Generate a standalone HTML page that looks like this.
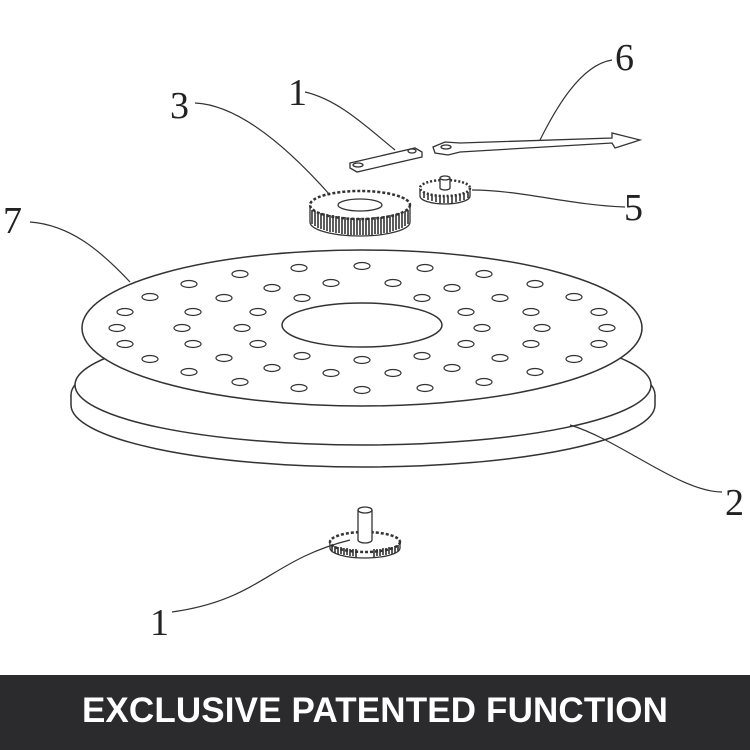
<!DOCTYPE html>
<html><head><meta charset="utf-8"><style>
html,body{margin:0;padding:0;background:#fff;}
.wrap{position:relative;width:750px;height:750px;overflow:hidden;background:#fff;}
.bar{position:absolute;left:0;top:675px;width:750px;height:75px;background:#2b2a2d;color:#fff;font-family:"Liberation Sans",sans-serif;font-weight:bold;font-size:35px;text-align:center;line-height:72px;letter-spacing:0.15px;}
svg text{font-family:"Liberation Serif",serif;font-size:38px;fill:#222;}
</style></head><body><div class="wrap">
<svg width="750" height="675" viewBox="0 0 750 675" xmlns="http://www.w3.org/2000/svg">
<defs><ellipse id="h" cx="0" cy="0" rx="8" ry="3.5" fill="#fff" stroke="#333" stroke-width="1.2"/></defs>
<g fill="none" stroke="#333" stroke-width="1.5">
<ellipse cx="363" cy="395" rx="292" ry="62" fill="#fff"/>
<path d="M71 395 L71 405 A292 62 0 0 0 655 405 L655 395" fill="#fff"/>
<ellipse cx="363" cy="385" rx="288" ry="60" fill="#fff"/>
<ellipse cx="362" cy="328" rx="280" ry="78" fill="#fff"/>
<ellipse cx="362" cy="325" rx="80" ry="22" fill="#fff"/>
</g>
<g>
<use href="#h" x="607" y="328"/><use href="#h" x="599" y="344"/><use href="#h" x="574" y="359"/><use href="#h" x="535" y="372"/><use href="#h" x="484" y="382"/><use href="#h" x="425" y="388"/><use href="#h" x="362" y="390"/><use href="#h" x="299" y="388"/><use href="#h" x="240" y="382"/><use href="#h" x="189" y="372"/><use href="#h" x="150" y="359"/><use href="#h" x="125" y="344"/><use href="#h" x="117" y="328"/><use href="#h" x="125" y="312"/><use href="#h" x="150" y="297"/><use href="#h" x="189" y="284"/><use href="#h" x="240" y="274"/><use href="#h" x="299" y="268"/><use href="#h" x="362" y="266"/><use href="#h" x="425" y="268"/><use href="#h" x="484" y="274"/><use href="#h" x="535" y="284"/><use href="#h" x="574" y="297"/><use href="#h" x="599" y="312"/>
<use href="#h" x="542" y="328"/><use href="#h" x="531" y="344"/><use href="#h" x="500" y="358"/><use href="#h" x="452" y="368"/><use href="#h" x="393" y="373"/><use href="#h" x="331" y="373"/><use href="#h" x="272" y="368"/><use href="#h" x="224" y="358"/><use href="#h" x="193" y="344"/><use href="#h" x="182" y="328"/><use href="#h" x="193" y="312"/><use href="#h" x="224" y="298"/><use href="#h" x="272" y="288"/><use href="#h" x="331" y="283"/><use href="#h" x="393" y="283"/><use href="#h" x="452" y="288"/><use href="#h" x="500" y="298"/><use href="#h" x="531" y="312"/>
<use href="#h" x="482" y="328"/><use href="#h" x="466" y="344"/><use href="#h" x="422" y="356"/><use href="#h" x="362" y="360"/><use href="#h" x="302" y="356"/><use href="#h" x="258" y="344"/><use href="#h" x="242" y="328"/><use href="#h" x="258" y="312"/><use href="#h" x="302" y="298"/><use href="#h" x="422" y="298"/><use href="#h" x="466" y="312"/>
</g>
<g fill="#fff" stroke="#333" stroke-width="1.3">
<path d="M310 205 L310 222 A50 14 0 0 0 410 222 L410 205"/>
<ellipse cx="360" cy="205" rx="50" ry="14" stroke-width="2.5" stroke-dasharray="3 2"/>
<ellipse cx="360" cy="205" rx="22" ry="6"/>
<path d="M312 210 V224 M315 211 V226 M318 212 V228 M321 213 V229 M324 214 V230 M327 214 V231 M330 215 V232 M333 215 V232 M336 216 V233 M339 216 V233 M342 217 V234 M345 217 V234 M348 218 V235 M351 218 V235 M354 218 V235 M357 218 V235 M360 218 V235 M363 218 V235 M366 218 V235 M369 218 V235 M372 218 V235 M375 217 V234 M378 217 V234 M381 217 V234 M384 216 V233 M387 216 V233 M390 215 V232 M393 215 V231 M396 214 V230 M399 213 V229 M402 212 V228 M405 211 V226 M408 210 V224" fill="none" stroke-width="1.6"/>
<path d="M420 188 L420 196 A25 8 0 0 0 470 196 L470 188"/>
<ellipse cx="445" cy="188" rx="25" ry="8" stroke-width="2.5" stroke-dasharray="2 2"/>
<path d="M424 192 V198 M428 193 V200 M432 194 V201 M436 195 V202 M440 195 V203 M444 196 V203 M448 196 V203 M452 195 V203 M456 195 V202 M460 194 V201 M464 193 V200 M468 192 V198" fill="none" stroke-width="1.6"/>
<path d="M440 178 V188 A5 2 0 0 0 450 188 V178"/><ellipse cx="445" cy="178" rx="5" ry="2"/>
<path d="M350 163 L415 148 L422 152 L422 157 L357 172 L350 168 Z"/>
<ellipse cx="358" cy="165" rx="5" ry="2"/><ellipse cx="412" cy="151" rx="4" ry="2"/>
<path d="M433 147 L445 142 L460 143 L612 138 L612 133 L640 140 L615 148 L612 143 L460 152 L448 155 L435 153 Z"/>
<ellipse cx="446" cy="147" rx="5" ry="2"/>
<path d="M330 542 L330 548 A35 10 0 0 0 400 548 L400 542"/>
<ellipse cx="365" cy="542" rx="35" ry="10" stroke-width="2.5" stroke-dasharray="3 2"/>
<path d="M358 510 L358 540 A7 3 0 0 0 372 540 L372 510"/>
<ellipse cx="365" cy="510" rx="7" ry="3"/>
<path d="M332 545 V551 M335 546 V553 M338 547 V554 M341 547 V554 M344 548 V555 M347 548 V555 M350 549 V556 M353 549 V556 M356 549 V557 M374 549 V557 M377 549 V556 M380 549 V556 M383 548 V555 M386 548 V555 M389 547 V554 M392 547 V554 M395 546 V553 M398 545 V551" fill="none" stroke-width="1.6"/>
</g>
<g fill="none" stroke="#333" stroke-width="1.2">
<path d="M195 103 C240 105 290 150 330 195"/>
<path d="M305 92 C340 100 370 130 395 150"/>
<path d="M612 60 C580 65 555 110 540 140"/>
<path d="M30 222 C70 225 100 250 130 282"/>
<path d="M625 207 C570 205 520 190 472 190"/>
<path d="M722 492 C680 492 620 440 570 425"/>
<path d="M172 612 C260 600 270 560 350 540"/>
</g>
<text x="170" y="118">3</text>
<text x="288" y="105">1</text>
<text x="615" y="70">6</text>
<text x="3" y="233">7</text>
<text x="624" y="220">5</text>
<text x="725" y="515">2</text>
<text x="150" y="635">1</text>
</svg>
<div class="bar">EXCLUSIVE PATENTED FUNCTION</div>
</div></body></html>
